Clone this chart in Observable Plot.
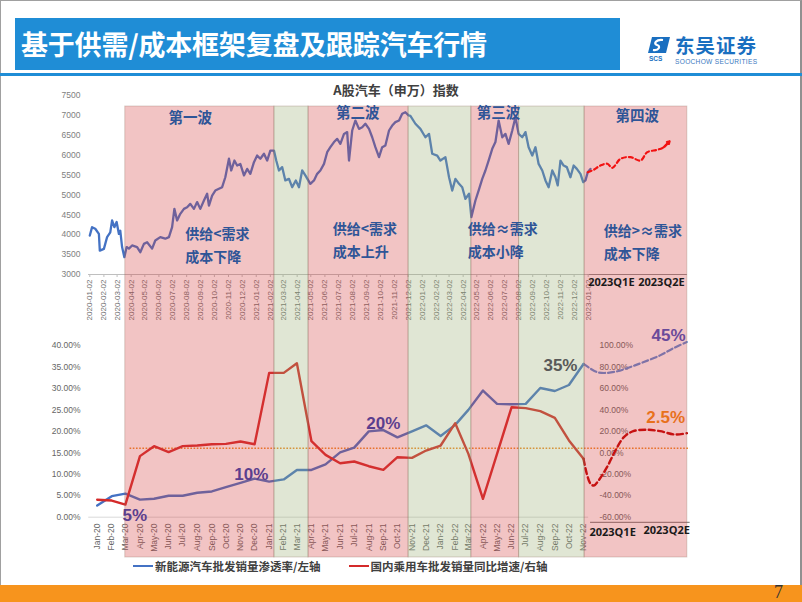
<!DOCTYPE html>
<html><head><meta charset="utf-8">
<script src="https://cdn.jsdelivr.net/npm/d3@7"></script>
<script src="https://cdn.jsdelivr.net/npm/@observablehq/plot@0.6"></script>
<style>
html,body{margin:0;padding:0;background:#fff;}
#page{position:relative;width:802px;height:602px;overflow:hidden;background:#fff;font-family:"Noto Sans","Noto Sans CJK SC",sans-serif;}
#page > svg{position:absolute;left:0;top:0;}
.abs{position:absolute;}
</style>
</head><body>
<div id="page">
  <div class="abs" style="left:0;top:0;width:802px;height:602px;box-sizing:border-box;border:1px solid #a0a0a0;border-right:2px solid #909090;"></div>
  <div class="abs" style="left:15px;top:18px;width:605px;height:52px;background:#1f8dd6;"></div>
  <div class="abs" style="left:21px;top:18px;height:52px;line-height:52px;color:#fff;font-weight:bold;font-size:27px;font-family:'Noto Sans CJK SC',sans-serif;letter-spacing:-0.2px;">基于供需/成本框架复盘及跟踪汽车行情</div>
  <svg class="abs" style="left:648px;top:37px;" width="24" height="26" viewBox="0 0 24 26">
    <path d="M4 0 H22 L18 16 H0 Z" fill="#1a6fc0"/>
    <path d="M15 3 C8 2 5 7 9 8 C13 9 11 14 5 13" stroke="#fff" stroke-width="2.2" fill="none"/>
    <text x="1" y="24" font-size="6.5" font-weight="bold" fill="#1a6fc0" font-family="Liberation Sans">SCS</text>
  </svg>
  <div class="abs" style="left:675px;top:35px;line-height:20px;height:20px;font-size:19.5px;font-weight:bold;color:#1a6fc0;font-family:'Noto Sans CJK SC',sans-serif;letter-spacing:1px;">东吴证券</div>
  <div class="abs" style="left:675px;top:58px;line-height:7px;font-size:6.6px;color:#3a78c0;font-family:'Liberation Sans',sans-serif;letter-spacing:0.3px;">SOOCHOW SECURITIES</div>
  <div class="abs" style="left:0;top:73px;width:802px;height:3px;background:#1f8dd6;"></div>
  <div class="abs" style="left:0;top:80px;width:792px;text-align:center;font-size:13px;font-weight:bold;color:#404040;font-family:'Noto Sans CJK SC',sans-serif;">A股汽车（申万）指数</div>
  <div class="abs" style="left:133px;top:558px;display:flex;align-items:center;font-size:11.5px;font-weight:bold;color:#404040;font-family:'Noto Sans CJK SC',sans-serif;">
    <span style="display:inline-block;width:20px;height:2px;background:#4472c4;margin-right:2px;"></span><span>新能源汽车批发销量渗透率/左轴</span>
    <span style="display:inline-block;width:20px;height:2px;background:#d42a2a;margin-left:29px;margin-right:1px;"></span><span>国内乘用车批发销量同比增速/右轴</span>
  </div>
  <div class="abs" style="left:0;top:585px;width:802px;height:17px;background:#f7941d;"></div>
  <div class="abs" style="left:774px;top:582px;font-size:18px;color:#333;font-family:'Liberation Serif',serif;">7</div>
</div>
<script>
// ---------- Top chart: A股汽车（申万）指数 ----------
const indexDates = ["2020-01-02","2020-01-07","2020-01-14","2020-01-22","2020-01-24","2020-02-02","2020-02-05","2020-02-09","2020-02-16","2020-02-20","2020-02-25","2020-03-01","2020-03-06","2020-03-09","2020-03-13","2020-03-18","2020-03-23","2020-03-28","2020-04-04","2020-04-15","2020-04-22","2020-04-30","2020-05-07","2020-05-18","2020-05-25","2020-06-05","2020-06-16","2020-06-24","2020-07-01","2020-07-06","2020-07-12","2020-07-19","2020-07-27","2020-08-03","2020-08-10","2020-08-18","2020-08-25","2020-09-01","2020-09-09","2020-09-16","2020-09-20","2020-09-27","2020-10-04","2020-10-12","2020-10-19","2020-10-26","2020-11-03","2020-11-08","2020-11-15","2020-11-21","2020-11-28","2020-12-06","2020-12-13","2020-12-20","2020-12-28","2021-01-04","2021-01-11","2021-01-19","2021-01-26","2021-02-02","2021-02-10","2021-02-15","2021-02-21","2021-02-28","2021-03-07","2021-03-15","2021-03-22","2021-03-30","2021-04-06","2021-04-13","2021-04-20","2021-05-01","2021-05-09","2021-05-16","2021-05-23","2021-05-31","2021-06-07","2021-06-14","2021-06-22","2021-06-29","2021-07-06","2021-07-14","2021-07-21","2021-07-25","2021-08-01","2021-08-08","2021-08-16","2021-08-23","2021-08-30","2021-09-07","2021-09-14","2021-09-21","2021-09-29","2021-10-06","2021-10-13","2021-10-21","2021-10-28","2021-11-04","2021-11-12","2021-11-19","2021-11-26","2021-12-03","2021-12-07","2021-12-18","2021-12-29","2022-01-09","2022-01-17","2022-01-24","2022-02-04","2022-02-11","2022-02-22","2022-03-02","2022-03-09","2022-03-16","2022-03-24","2022-03-31","2022-04-07","2022-04-15","2022-04-20","2022-04-29","2022-05-06","2022-05-14","2022-05-21","2022-05-28","2022-06-05","2022-06-12","2022-06-19","2022-06-27","2022-07-04","2022-07-11","2022-07-19","2022-07-26","2022-08-02","2022-08-10","2022-08-17","2022-08-24","2022-09-01","2022-09-08","2022-09-15","2022-09-23","2022-09-30","2022-10-07","2022-10-15","2022-10-22","2022-10-27","2022-11-02","2022-11-09","2022-11-16","2022-11-24","2022-12-01","2022-12-08","2022-12-16","2022-12-22","2022-12-27","2023-01-01","2023-01-07"];
const indexValues = [3980,4190,4150,4020,3600,3645,3770,3940,4060,4360,4190,4320,4020,4100,3690,3435,3690,3650,3730,3690,3560,3770,3810,3650,3855,3940,3900,3940,4190,4650,4360,4525,4650,4690,4775,4650,4820,4650,4860,5030,4730,4985,5110,5155,5195,5445,5910,5615,5865,5740,5780,5490,5655,5530,5825,5990,5910,6035,5865,6115,6115,5865,5615,5700,5365,5405,5195,5365,5195,5615,5490,5280,5365,5530,5615,5780,6075,6200,6330,6410,6285,6535,6580,5865,6620,6870,6660,6700,6790,6660,6450,6200,5950,6200,6245,6620,6745,6830,6870,7040,7080,7000,6990,6790,6660,6450,6535,6035,5990,5865,5950,5445,5110,5405,5280,5195,4900,5030,4440,4860,5110,5405,5615,5865,6160,6330,6870,6450,6535,6285,6620,6955,6535,6450,6580,6200,5990,6200,5780,5615,5365,5195,5615,5445,5240,5865,5740,5700,5445,5740,5655,5530,5320,5365,5570,5655];
const forecastDates = ["2023-01-01","2023-01-14","2023-01-29","2023-02-13","2023-02-24","2023-03-14","2023-04-05","2023-04-27","2023-05-12","2023-06-03","2023-06-17","2023-06-30"];
const forecastValues = [5570,5632,5740,5783,5682,5908,5950,5866,6075,6135,6200,6350];
const topTicks = ["2020-01-02","2020-02-02","2020-03-02","2020-04-02","2020-05-02","2020-06-02","2020-07-02","2020-08-02","2020-09-02","2020-10-02","2020-11-02","2020-12-02","2021-01-02","2021-02-02","2021-03-02","2021-04-02","2021-05-02","2021-06-02","2021-07-02","2021-08-02","2021-09-02","2021-10-02","2021-11-02","2021-12-02","2022-01-02","2022-02-02","2022-03-02","2022-04-02","2022-05-02","2022-06-02","2022-07-02","2022-08-02","2022-09-02","2022-10-02","2022-11-02","2022-12-02","2023-01-02"];
const topYTicks = [3000,3500,4000,4500,5000,5500,6000,6500,7000,7500];

// shaded periods
const periodStart = ["2020-03-20","2021-02-11","2021-04-27","2021-12-03","2022-04-20","2022-08-03","2022-12-25"];
const periodEnd   = ["2021-02-11","2021-04-27","2021-12-03","2022-04-20","2022-08-03","2022-12-25","2023-08-08"];
const periodPhase = ["up","down","up","down","up","down","up"];

// wave annotations (top chart)
const waveLabels = ["第一波","第二波","第三波","第四波"];
const waveDates  = ["2020-08-10","2021-08-13","2022-06-19","2023-04-20"];
const waveY      = [6922,7048,7048,6972];
const noteLabels = ["供给<需求\n成本下降","供给<需求\n成本上升","供给≈需求\n成本小降","供给>≈需求\n成本下降"];
const noteDates  = ["2020-07-30","2021-06-19","2022-04-12","2023-02-05"];
const noteY      = [3779,3905,3905,3855];
const quarterLabels = ["2023Q1E","2023Q2E"];
const topQuarterDates = ["2023-02-22","2023-06-12"];

// ---------- Bottom chart ----------
const monthLabels = ["Jan-20","Feb-20","Mar-20","Apr-20","May-20","Jun-20","Jul-20","Aug-20","Sep-20","Oct-20","Nov-20","Dec-20","Jan-21","Feb-21","Mar-21","Apr-21","May-21","Jun-21","Jul-21","Aug-21","Sep-21","Oct-21","Nov-21","Dec-21","Jan-22","Feb-22","Mar-22","Apr-22","May-22","Jun-22","Jul-22","Aug-22","Sep-22","Oct-22","Nov-22"];
const nevShare = [2.7,4.9,5.5,4.1,4.3,5.0,5.0,5.7,6.0,7.0,8.0,9.0,8.3,8.8,11.0,11.0,12.3,15.1,16.2,20.0,20.3,18.6,20.0,21.4,18.9,21.5,25.0,29.5,26.4,26.3,26.4,30.1,29.4,30.8,35.7];
const pvYoY = [-43.8,-44.5,-48.2,-3.1,6.2,0.6,6.2,6.8,8.0,8.3,10.5,8.0,74.5,74.5,83.5,10.8,-1.9,-9.7,-8.1,-12.5,-15.9,-4.1,-4.7,2.1,6.8,27.6,-1.0,-42.9,-1.0,42.5,41.6,38.8,32.6,11.5,-5.6];
const nevFcDates = ["2022-11-01","2022-11-16","2022-11-30","2022-12-17","2023-01-12","2023-02-09","2023-03-08","2023-04-13","2023-05-10","2023-06-09"];
const nevFcValues = [35.7,34.6,33.8,33.6,34.0,35.0,36.1,37.7,39.3,40.8];
const pvFcDates = ["2022-11-01","2022-11-08","2022-11-16","2022-11-23","2022-12-03","2022-12-21","2023-01-08","2023-01-26","2023-02-15","2023-03-15","2023-04-13","2023-05-14","2023-06-09"];
const pvFcValues = [-5.6,-19.5,-28.9,-30.5,-25.8,-13.4,2.2,14.6,20.2,21.5,20.2,17.1,18.3];
const leftTicks = [0,5,10,15,20,25,30,35,40];
const rightTicks = [-60,-40,-20,0,20,40,60,80,100];
const refLineRight = 4.3; // orange dotted reference (right axis)
const pctLabels = ["5%","10%","20%","35%","45%","2.5%"];
const pctDates  = ["2020-03-21","2020-11-24","2021-09-01","2022-09-13","2023-05-01","2023-04-25"];
const pctY      = [0.4,9.95,21.8,35.4,42.3,23.2];
const pctColors = ["#5b3e8e","#5b3e8e","#5b3e8e","#595959","#6a4a9a","#e8711c"];
const bottomQuarterDates = ["2023-01-02","2023-04-27"];
const bottomQuarterY = [-3.6,-3.1];

// ---------- build ----------
const parse = d3.utcParse("%Y-%m-%d");
const mparse = d3.utcParse("%b-%y");
const page = document.getElementById("page");
const FONT = "'Liberation Sans','Noto Sans CJK SC',sans-serif";
const CJK = "'Noto Sans CJK SC',sans-serif";
const baseStyle = {background:"transparent", overflow:"visible", fontFamily: FONT};

const topX = {type:"utc", domain:[parse("2020-01-02"), parse("2023-01-02")], range:[89.3, 587.7]};
const topY = {domain:[3000,7500], range:[274,95]};

const idx = indexDates.map((d,i)=>({date:parse(d), value:indexValues[i]}));
const fc = forecastDates.map((d,i)=>({date:parse(d), value:forecastValues[i]}));
const n = fc.length;
const fcArrow = [{x1: fc[n-2].date, y1: fc[n-2].value, x2: fc[n-1].date, y2: fc[n-1].value}];
const periods = periodStart.map((s,i)=>({start:parse(s), end:parse(periodEnd[i]), phase:periodPhase[i]}));
const fcEnd = periods[periods.length-1].end;

const topPlot = Plot.plot({
  width:802, height:602, marginLeft:88, marginRight:214, marginTop:95, marginBottom:328,
  x: topX, y: topY, style: baseStyle,
  marks: [
    Plot.ruleY([3000], {stroke:"#bfbfbf"}),
    Plot.ruleY([{y:3000, a:parse("2023-01-02"), b:fcEnd}], {y:"y", x1:"a", x2:"b", stroke:"#8c8c8c", strokeWidth:1.2}),
    Plot.axisY({ticks: topYTicks, tickSize:0, tickPadding:8, fontSize:8.5, fill:"#808080", label:null, tickFormat: d=>String(d)}),
    Plot.axisX({ticks: topTicks.map(parse), tickFormat: d3.utcFormat("%Y-%m-%d"), tickRotate:-90, tickSize:3, tickPadding:2, fontSize:8, fill:"#6e6e6e", stroke:"#bfbfbf", label:null}),
    Plot.line(idx, {x:"date", y:"value", stroke:"#4472c4", strokeWidth:2.3, strokeLinejoin:"round"}),
    Plot.line(fc, {x:"date", y:"value", stroke:"#ff0000", strokeWidth:2.2, strokeDasharray:"4,3", curve:"catmull-rom"}),
    Plot.arrow(fcArrow, {x1:"x1", y1:"y1", x2:"x2", y2:"y2", stroke:"#ff0000", strokeWidth:2.2, headLength:7})
  ]
});
page.appendChild(topPlot);

// bottom chart
const toLeft = r => (r + 60) / 4;
const months = monthLabels.map(m => mparse(m));
const nev = months.map((d,i)=>({date:d, v:nevShare[i]}));
const pv = months.map((d,i)=>({date:d, v:toLeft(pvYoY[i])}));
const nevFc = nevFcDates.map((d,i)=>({date:parse(d), v:nevFcValues[i]}));
const pvFc = pvFcDates.map((d,i)=>({date:parse(d), v:toLeft(pvFcValues[i])}));
const botX = {type:"utc", domain:[months[0], months[months.length-1]], range:[96.7, 583]};
const botY = {domain:[0,40], range:[516.7, 345]};
const pctFmt = d => d.toFixed(2) + "%";

const bottomPlot = Plot.plot({
  width:802, height:602, marginLeft:88, marginRight:205, marginTop:345, marginBottom:84,
  x: botX, y: botY, style: baseStyle,
  marks: [
    Plot.ruleY([{y:0, a:parse("2019-12-14"), b:parse("2022-11-12")}], {y:"y", x1:"a", x2:"b", stroke:"#d9d9d9"}),
    Plot.ruleY([{y:-1.2, a:parse("2022-11-16"), b:parse("2023-06-16")}], {y:"y", x1:"a", x2:"b", stroke:"#8c8c8c", strokeWidth:1.2}),
    Plot.axisY({ticks: leftTicks, tickSize:0, tickPadding:8, fontSize:8.5, fill:"#666", label:null, tickFormat: pctFmt}),
    Plot.axisY({anchor:"right", ticks: rightTicks.map(toLeft), tickSize:0, tickPadding:2, fontSize:8.5, fill:"#666", label:null, tickFormat: d => pctFmt(d*4 - 60)}),
    Plot.axisX({ticks: months, tickFormat: d3.utcFormat("%b-%y"), tickRotate:-90, tickSize:0, tickPadding:5, fontSize:8.5, fill:"#666", label:null}),
    Plot.ruleY([{y:toLeft(refLineRight), a:parse("2020-03-11"), b:parse("2023-06-16")}], {y:"y", x1:"a", x2:"b", stroke:"#f08a24", strokeWidth:1.6, strokeDasharray:"1.6,1.6"}),
    Plot.line(nev, {x:"date", y:"v", stroke:"#4472c4", strokeWidth:2.4}),
    Plot.line(pv, {x:"date", y:"v", stroke:"#d42a2a", strokeWidth:2.4}),
    Plot.line(nevFc, {x:"date", y:"v", stroke:"#5b8bd6", strokeWidth:2.2, strokeDasharray:"6,3", curve:"catmull-rom"}),
    Plot.line(pvFc, {x:"date", y:"v", stroke:"#c00000", strokeWidth:2.4, strokeDasharray:"6,3.5", curve:"catmull-rom"})
  ]
});
page.appendChild(bottomPlot);

// shading overlay + top annotations
const waves = waveLabels.map((t,i)=>({t, date:parse(waveDates[i]), y:waveY[i]}));
const notes = noteLabels.map((t,i)=>({t, date:parse(noteDates[i]), y:noteY[i]}));
const topQ = quarterLabels.map((t,i)=>({t, date:parse(topQuarterDates[i]), y:2799}));
const overlay = Plot.plot({
  width:802, height:602, marginLeft:0, marginRight:0, marginTop:106, marginBottom:45,
  x: {...topX, axis:null}, y: {...topY, axis:null}, style: baseStyle,
  marks: [
    Plot.rect(periods.filter(p=>p.phase==="up"), {x1:"start", x2:"end", fill:"rgb(211,58,58)", fillOpacity:0.3, stroke:"#8c6c5c", strokeOpacity:0.3}),
    Plot.rect(periods.filter(p=>p.phase==="down"), {x1:"start", x2:"end", fill:"rgb(152,172,112)", fillOpacity:0.3, stroke:"#8c6c5c", strokeOpacity:0.3}),
    Plot.text(waves, {x:"date", y:"y", text:"t", fontSize:14.5, fontWeight:"bold", fill:"#2f5597", fontFamily:CJK}),
    Plot.text(notes, {x:"date", y:"y", text:"t", fontSize:14, fontWeight:"bold", fill:"#2f5597", textAnchor:"start", lineHeight:1.62, fontFamily:CJK}),
    Plot.text(topQ, {x:"date", y:"y", text:"t", fontSize:11, fontWeight:"bold", fill:"#1a1a1a", fontFamily:"'Open Sans',sans-serif"})
  ]
});
page.appendChild(overlay);

// bottom annotations
const pcts = pctLabels.map((t,i)=>({t, date:parse(pctDates[i]), y:pctY[i], c:pctColors[i]}));
const botQ = quarterLabels.map((t,i)=>({t, date:parse(bottomQuarterDates[i]), y:bottomQuarterY[i]}));
const botAnn = Plot.plot({
  width:802, height:602, marginLeft:88, marginRight:205, marginTop:345, marginBottom:84,
  x: {...botX, axis:null}, y: {...botY, axis:null}, style: baseStyle,
  marks: [
    Plot.text(pcts, {x:"date", y:"y", text:"t", fill: d=>d.c, fontSize:17, fontWeight:"bold", fontFamily:"'Liberation Sans',sans-serif"}),
    Plot.text(botQ, {x:"date", y:"y", text:"t", fontSize:11, fontWeight:"bold", fill:"#1a1a1a", fontFamily:"'Open Sans',sans-serif"})
  ]
});
page.appendChild(botAnn);
</script>
</body></html>
